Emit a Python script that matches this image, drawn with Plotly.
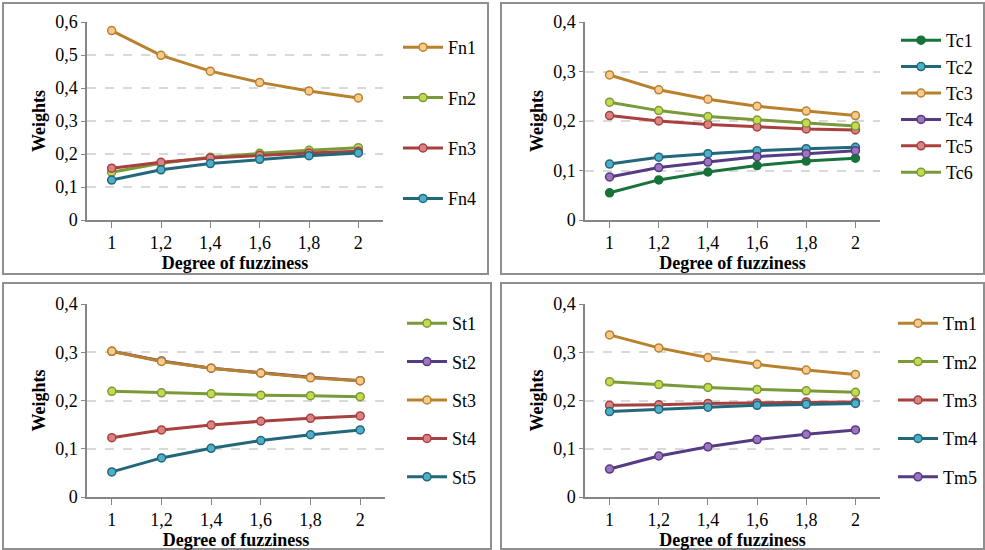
import plotly.graph_objects as go

W, H = 985, 550

x_vals = [1.0, 1.2, 1.4, 1.6, 1.8, 2.0]
x_ticktext = ["1", "1,2", "1,4", "1,6", "1,8", "2"]

# Panel 1
Fn1 = [0.574, 0.499, 0.451, 0.417, 0.391, 0.370]
Fn2 = [0.145, 0.172, 0.190, 0.202, 0.211, 0.219]
Fn3 = [0.157, 0.175, 0.188, 0.196, 0.203, 0.208]
Fn4 = [0.121, 0.152, 0.171, 0.184, 0.195, 0.203]

# Panel 2
Tc1 = [0.055, 0.081, 0.097, 0.110, 0.119, 0.125]
Tc2 = [0.113, 0.127, 0.134, 0.140, 0.144, 0.147]
Tc3 = [0.293, 0.263, 0.244, 0.230, 0.220, 0.211]
Tc4 = [0.087, 0.106, 0.117, 0.128, 0.134, 0.140]
Tc5 = [0.211, 0.200, 0.193, 0.188, 0.184, 0.182]
Tc6 = [0.238, 0.221, 0.209, 0.202, 0.196, 0.190]

# Panel 3
St1 = [0.219, 0.216, 0.214, 0.211, 0.210, 0.208]
St2 = [0.302, 0.282, 0.267, 0.257, 0.248, 0.241]
St3 = [0.302, 0.281, 0.267, 0.257, 0.247, 0.241]
St4 = [0.123, 0.139, 0.149, 0.157, 0.163, 0.168]
St5 = [0.052, 0.081, 0.101, 0.117, 0.129, 0.139]

# Panel 4
Tm1 = [0.336, 0.309, 0.289, 0.275, 0.263, 0.254]
Tm2 = [0.239, 0.233, 0.227, 0.223, 0.220, 0.217]
Tm3 = [0.190, 0.191, 0.194, 0.195, 0.197, 0.197]
Tm4 = [0.177, 0.182, 0.186, 0.190, 0.192, 0.194]
Tm5 = [0.058, 0.085, 0.104, 0.119, 0.130, 0.139]

ORANGE = ("#B9812E", "#F8CB8C")
OLIVE = ("#7A9A3A", "#C6DA4E")
RED = ("#A8403E", "#D98384")
TEAL = ("#22677A", "#4FAFC8")
PURPLE = ("#553A84", "#9C75BC")
DGREEN = ("#17733A", "#17733A")

FONT = "Liberation Serif"
FS = 18

panels = [
    dict(series=[("Fn1", Fn1, ORANGE), ("Fn2", Fn2, OLIVE), ("Fn3", Fn3, RED), ("Fn4", Fn4, TEAL)],
         px=(87, 383), py=(22, 220), ymax=0.6, legend=(398, 29), gap=24),
    dict(series=[("Tc1", Tc1, DGREEN), ("Tc2", Tc2, TEAL), ("Tc3", Tc3, ORANGE),
                 ("Tc4", Tc4, PURPLE), ("Tc5", Tc5, RED), ("Tc6", Tc6, OLIVE)],
         px=(585, 880), py=(22, 220), ymax=0.4, legend=(896, 22), gap=0),
    dict(series=[("St1", St1, OLIVE), ("St2", St2, PURPLE), ("St3", St3, ORANGE),
                 ("St4", St4, RED), ("St5", St5, TEAL)],
         px=(87, 385), py=(304, 497), ymax=0.4, legend=(402, 305), gap=12),
    dict(series=[("Tm1", Tm1, ORANGE), ("Tm2", Tm2, OLIVE), ("Tm3", Tm3, RED),
                 ("Tm4", Tm4, TEAL), ("Tm5", Tm5, PURPLE)],
         px=(585, 880), py=(304, 497), ymax=0.4, legend=(893, 305), gap=12),
]

fig = go.Figure()
layout = dict(
    width=W, height=H, margin=dict(l=0, r=0, t=0, b=0, autoexpand=False),
    paper_bgcolor="white", plot_bgcolor="white",
    separators=", ", font=dict(family=FONT, size=FS, color="#000000"),
    showlegend=True,
)

for i, p in enumerate(panels):
    n = i + 1
    xa = "x" if n == 1 else f"x{n}"
    ya = "y" if n == 1 else f"y{n}"
    lg = "legend" if n == 1 else f"legend{n}"
    for name, vals, (lc, fc) in p["series"]:
        fig.add_trace(go.Scatter(
            x=x_vals, y=vals, name=name, mode="lines+markers",
            xaxis=xa, yaxis=ya, legend=lg, legendgroup=name,
            line=dict(color=lc, width=3),
            marker=dict(size=8, color=fc, line=dict(color=lc, width=1.5)),
        ))
    x0, x1 = p["px"]
    y0, y1 = p["py"]
    xkey = "xaxis" if n == 1 else f"xaxis{n}"
    ykey = "yaxis" if n == 1 else f"yaxis{n}"
    layout[xkey] = dict(
        domain=[x0 / W, x1 / W], anchor=ya, range=[0.9, 2.1], automargin=False,
        tickvals=x_vals, ticktext=x_ticktext, ticks="outside", ticklen=6,
        tickcolor="#868686", showline=True, linecolor="#868686", linewidth=1.5,
        showgrid=False, zeroline=False, fixedrange=True,
        tickfont=dict(family=FONT, size=FS),
        title=dict(text="<b>Degree of fuzziness</b>", font=dict(family=FONT, size=FS), standoff=2),
    )
    layout[ykey] = dict(
        domain=[1 - y1 / H, 1 - y0 / H], anchor=xa, range=[0, p["ymax"]], dtick=0.1,
        automargin=False,
        ticks="outside", ticklen=4, tickcolor="#868686",
        showline=True, linecolor="#868686", linewidth=1.5,
        showgrid=True, gridcolor="#D9D9D9", griddash="dash", gridwidth=1.5,
        zeroline=False, fixedrange=True, tickfont=dict(family=FONT, size=FS),
        title=dict(text="<b>Weights</b>", font=dict(family=FONT, size=FS), standoff=5),
    )
    lx, ly = p["legend"]
    layout[lg] = dict(
        x=lx / W, y=1 - ly / H, xanchor="left", yanchor="top",
        bgcolor="rgba(0,0,0,0)", font=dict(family=FONT, size=FS), tracegroupgap=p["gap"],
        itemwidth=40,
    )

frames = [(3, 3, 488, 274), (501, 3, 984, 274), (3, 283, 491, 549), (501, 283, 984, 549)]
shapes = []
for (a, b, c, d) in frames:
    shapes.append(dict(type="rect", xref="paper", yref="paper",
                       x0=a / W, x1=c / W, y0=1 - d / H, y1=1 - b / H,
                       line=dict(color="#8F8F8F", width=2), layer="below"))
layout["shapes"] = shapes

fig.update_layout(**layout)
fig.write_html("out.html", config={"displayModeBar": False},
               post_script="document.body.style.margin='0';document.body.style.overflow='hidden';")
